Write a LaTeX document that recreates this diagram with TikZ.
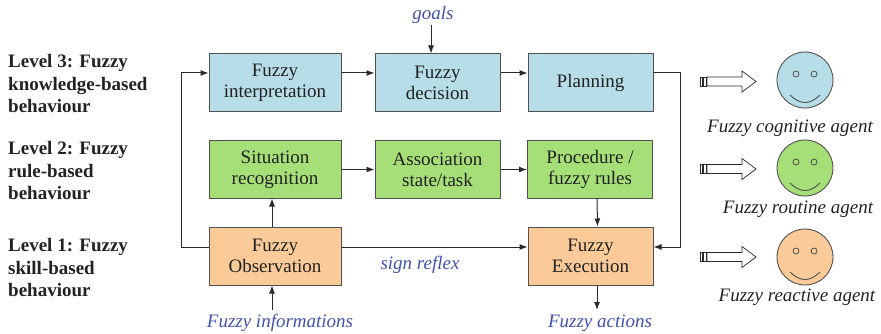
\documentclass[tikz,border=0pt]{standalone}
\usepackage{fontspec}
\setmainfont{Liberation Serif}
\usetikzlibrary{arrows.meta}
\definecolor{boxblue}{HTML}{B7DDE8}
\definecolor{boxgreen}{HTML}{A6DE78}
\definecolor{boxorange}{HTML}{FACB98}
\definecolor{bordergray}{HTML}{505050}
\definecolor{linegray}{HTML}{2A2A2A}
\definecolor{labelblue}{HTML}{4052B0}
\definecolor{txt}{HTML}{222222}
\tikzset{
  pics/smiley/.style={code={
    \draw[bordergray, line width=0.9pt, fill=#1] (0,0) circle[radius=28];
    \draw[bordergray, line width=0.8pt] (-9,-6) circle[radius=3] (9,-6) circle[radius=3];
    \draw[bordergray, line width=0.9pt] (-15,15) .. controls (-5,25) and (5,25) .. (15,15);
  }},
  pics/hollowarrow/.style={code={
    \draw[linegray, line width=0.7pt, fill=white] (0,-4.5) rectangle (2,4.5) (3.5,-4.5) rectangle (6,4.5);
    \draw[linegray, line width=0.7pt, fill=white] (7,-4.5) -- (42,-4.5) -- (42,-10.5) -- (56,0) -- (42,10.5) -- (42,4.5) -- (7,4.5) -- cycle;
  }}
}
\begin{document}
\begin{tikzpicture}[x=1pt,y=-1pt,
  box/.style={draw=bordergray, line width=1pt, align=center, inner sep=0pt,
    font=\fontsize{19}{21}\selectfont, text=txt, minimum height=58pt},
  wide/.style={minimum width=132pt},
  narrow/.style={minimum width=125pt},
  arr/.style={-{Latex[length=8pt,width=6pt]}, line width=1pt, draw=linegray},
  plain/.style={line width=1pt, draw=linegray},
  lvl/.style={anchor=west, align=left, inner sep=0pt, font=\fontsize{19}{22.5}\selectfont\bfseries, text=txt},
  blab/.style={inner sep=0pt, font=\fontsize{19}{22}\selectfont\itshape, text=labelblue},
  alab/.style={inner sep=0pt, font=\fontsize{19}{22}\selectfont\itshape, text=txt}]
\useasboundingbox (0,0) rectangle (881,334);

% level labels
\node[lvl] (l3) at (8,84) {Level 3: Fuzzy\\knowledge-based\\behaviour};
\node[lvl] (l2) at (8,171) {Level 2: Fuzzy\\rule-based\\behaviour};
\node[lvl] (l1) at (8,268) {Level 1: Fuzzy\\skill-based\\behaviour};

% boxes
\node[box, wide, fill=boxblue] (interp) at (275,83) {Fuzzy\\interpretation};
\node[box, narrow, fill=boxblue] (dec) at (437.5,83) {Fuzzy\\decision};
\node[box, narrow, fill=boxblue] (plan) at (590.5,83) {Planning};
\node[box, wide, fill=boxgreen, minimum height=57pt] (sit) at (275,169.5) {Situation\\recognition};
\node[box, narrow, fill=boxgreen, minimum height=57pt] (assoc) at (437.5,169.5) {Association\\state/task};
\node[box, narrow, fill=boxgreen, minimum height=57pt] (proc) at (590,169.5) {Procedure /\\fuzzy rules};
\node[box, wide, fill=boxorange] (obs) at (275,256) {Fuzzy\\Observation};
\node[box, narrow, fill=boxorange] (exe) at (590.5,256) {Fuzzy\\Execution};

% labels
\node[blab] (goals) at (433,15) {goals};
\node[blab] (reflex) at (420,265) {sign reflex};
\node[blab] (info) at (280,323) {Fuzzy informations};
\node[blab] (act) at (600,323) {Fuzzy actions};
\coordinate (goalsT) at (431,25);
\coordinate (infoT) at (272,310);
\coordinate (actB) at (597,310);

% connectors
\draw[arr] ([yshift=10pt]interp.east) -- ([yshift=10pt]dec.west);
\draw[arr] ([yshift=10pt]dec.east) -- ([yshift=10pt]plan.west);
\draw[arr] (sit.east) -- (assoc.west);
\draw[arr] (assoc.east) -- (proc.west);
\draw[arr] ([yshift=9pt]obs.east) -- ([yshift=9pt]exe.west);
\draw[arr] ([yshift=9pt]obs.west) -- ++(-27,0) |- ([yshift=10pt]interp.west);
\draw[arr] ([yshift=10pt]plan.east) -- ++(27,0) |- ([yshift=9pt]exe.east);
\draw[arr] ([xshift=7pt]proc.south) -- ([xshift=7pt]exe.north);
\draw[arr] ([xshift=-3pt]obs.north) -- ([xshift=-3pt]sit.south);
\draw[arr] (infoT) -- ([xshift=-3pt]obs.south);
\draw[arr] ([xshift=6.5pt]exe.south) -- (actB);
\draw[arr] (goalsT) -- ([xshift=-6.5pt]dec.north);

% agents
\pic at (700,81.5) {hollowarrow};
\pic at (700,169) {hollowarrow};
\pic at (700,257) {hollowarrow};
\pic at (805,80) {smiley=boxblue};
\pic at (805,168) {smiley=boxgreen};
\pic at (805,257) {smiley=boxorange};
\node[alab] (cog) at (790,128) {Fuzzy cognitive agent};
\node[alab] (rout) at (798,209) {Fuzzy routine agent};
\node[alab] (react) at (797,297) {Fuzzy reactive agent};
\end{tikzpicture}
\end{document}
